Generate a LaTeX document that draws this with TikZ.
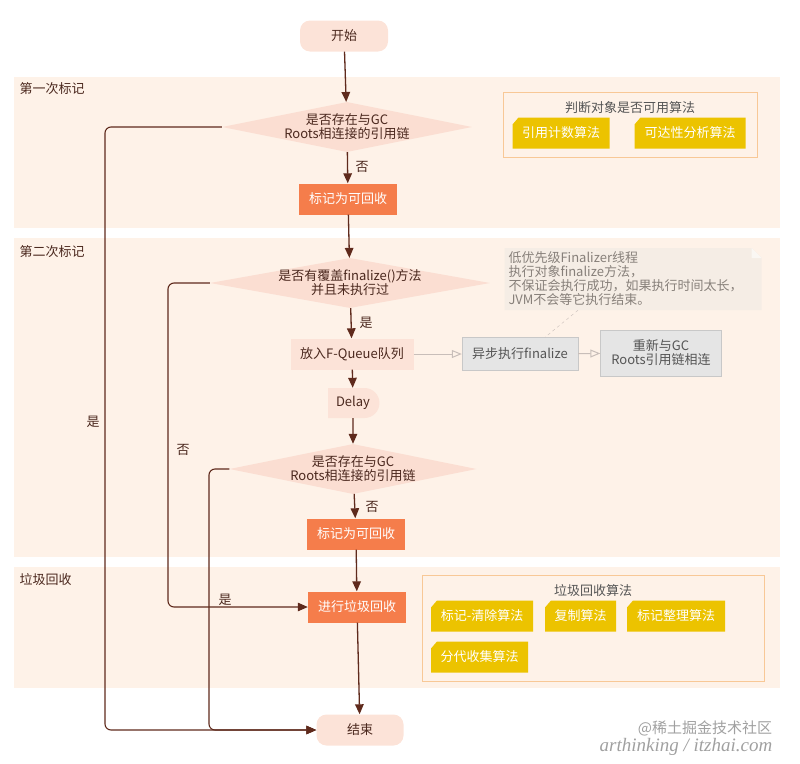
\documentclass[tikz,border=0pt]{standalone}
\usepackage{fontspec}
\setmainfont{Noto Sans CJK SC}
\newfontfamily\markfont{Liberation Serif}
\usetikzlibrary{shapes.geometric, shapes.misc, arrows.meta}

\definecolor{band}{RGB}{254,242,232}
\definecolor{petal}{RGB}{252,227,216}
\definecolor{rose}{RGB}{251,222,210}
\definecolor{ember}{RGB}{245,125,75}
\definecolor{ink}{RGB}{75,40,30}
\definecolor{bark}{RGB}{95,42,28}
\definecolor{mist}{RGB}{229,229,229}
\definecolor{mistedge}{RGB}{200,200,200}
\definecolor{slate}{RGB}{85,85,85}
\definecolor{paper}{RGB}{245,237,229}
\definecolor{pencil}{RGB}{135,128,122}
\definecolor{amber}{RGB}{236,195,0}
\definecolor{apricot}{RGB}{248,200,150}
\definecolor{smoke}{RGB}{160,160,160}
\definecolor{greyline}{RGB}{200,190,185}

\tikzset{
	flow/.style={draw=bark, line width=1.3pt, -{Triangle[length=10pt,width=8.5pt]}},
	backflow/.style={flow, line width=1.1pt, rounded corners=6pt},
	greyflow/.style={draw=greyline, line width=1pt, -{Triangle[open,length=10pt,width=8pt]}},
	lanelabel/.style={anchor=west, text=ink},
	terminal/.style={fill=petal, rounded corners=10pt, minimum height=31pt, text=ink},
	decision/.style={diamond, fill=rose, inner sep=0pt, minimum height=50pt},
	question/.style={align=center, text=ink, font=\fontsize{13}{14}\selectfont},
	markbox/.style={fill=ember, text=white, minimum width=98pt, minimum height=31pt},
	softbox/.style={fill=petal, text=ink, minimum height=31pt},
	greybox/.style={fill=mist, draw=mistedge, text=slate, align=center, font=\fontsize{13}{14}\selectfont},
	delaybox/.style={rounded rectangle, rounded rectangle west arc=none, fill=petal, text=ink, minimum width=58pt, minimum height=30pt},
	answer/.style={text=ink},
	frame/.style={draw=apricot, line width=0.8pt},
	frametitle/.style={text=slate},
	tag/.style={text=white, minimum height=31pt,
		path picture={\fill[amber] (path picture bounding box.south west)
			-- ([yshift=-7pt]path picture bounding box.north west)
			-- ([xshift=6pt]path picture bounding box.north west)
			-- (path picture bounding box.north east)
			-- (path picture bounding box.south east) -- cycle;}},
	hintnote/.style={text=pencil, align=left, text width=249pt, inner xsep=4pt, minimum height=62pt,
		font=\fontsize{13}{14}\selectfont,
		path picture={\fill[paper] (path picture bounding box.south west)
			-- (path picture bounding box.north west)
			-- ([xshift=-10pt]path picture bounding box.north east)
			-- ([yshift=-10pt]path picture bounding box.north east)
			-- (path picture bounding box.south east) -- cycle;
			\fill[white!55!paper] ([xshift=-10pt]path picture bounding box.north east)
			-- ([xshift=-10pt,yshift=-10pt]path picture bounding box.north east)
			-- ([yshift=-10pt]path picture bounding box.north east) -- cycle;}}
}

\begin{document}
\begin{tikzpicture}[x=1pt, y=-1pt, font=\fontsize{13}{15}\selectfont]

	\useasboundingbox (0,0) rectangle (800,763);

	% lanes
	\fill[band] (14,77) rectangle (780,228);
	\fill[band] (14,238) rectangle (780,557);
	\fill[band] (14,567) rectangle (780,688);
	\node[lanelabel] (lane1) at (16,89) {第一次标记};
	\node[lanelabel] (lane2) at (16,252) {第二次标记};
	\node[lanelabel] (lane3) at (16,580) {垃圾回收};

	% main column
	\node[terminal, minimum width=88pt] (start) at (344,36) {开始};
	\node[decision, minimum width=250pt] (check1) at (347,127) {};
	\node[question] (check1text) at (check1) {是否存在与GC\\Roots相连接的引用链};
	\node[markbox] (mark1) at (348,199) {标记为可回收};
	\node[decision, minimum width=280pt] (check2) at (350,283) {};
	\node[question] (check2text) at (check2) {是否有覆盖finalize()方法\\并且未执行过};
	\node[softbox, minimum width=123pt] (queue) at (352,354) {放入F-Queue队列};
	\node[delaybox] (delay) at (353,403) {Delay};
	\node[decision, minimum width=247pt] (check3) at (353,469) {};
	\node[question] (check3text) at (check3) {是否存在与GC\\Roots相连接的引用链};
	\node[markbox] (mark2) at (356,534) {标记为可回收};
	\node[markbox] (collect) at (357,607) {进行垃圾回收};
	\node[terminal, minimum width=87pt] (finish) at (360,730) {结束};

	% finalizer side
	\node[greybox, minimum width=116pt, minimum height=33pt] (async) at (520,354) {异步执行finalize};
	\node[greybox, minimum width=121pt, minimum height=46pt] (relink) at (661,353) {重新与GC\\Roots引用链相连};
	\node[hintnote] (hint) at (633,279) {低优先级Finalizer线程\\执行对象finalize方法，\\不保证会执行成功，如果执行时间太长，\\JVM不会等它执行结束。};

	% connectors
	\draw[flow] (start) -- (check1);
	\draw[flow] (check1) -- (mark1);
	\draw[flow] (mark1) -- (check2);
	\draw[flow] (check2) -- (queue);
	\draw[flow] (queue) -- (delay);
	\draw[flow] (delay) -- (check3);
	\draw[flow] (check3) -- (mark2);
	\draw[flow] (mark2) -- (collect);
	\draw[flow] (collect) -- (finish);
	\draw[greyflow] (queue) -- (async);
	\draw[greyflow] (async) -- (relink);
	\draw[greyline, dashed] ([xshift=-55pt]hint.south) -- ([xshift=25pt]async.north);

	\coordinate (rail1) at (105,0);
	\coordinate (rail2) at (168,0);
	\coordinate (rail3) at (209,0);
	\draw[backflow] (check1.west) -- (check1.west -| rail1) |- (finish.west);
	\draw[backflow] (check2.west) -- (check2.west -| rail2) |- (collect.west);
	\draw[backflow] (check3.west) -- (check3.west -| rail3) |- (finish.west);

	\node[answer] (no1) at (362,167) {否};
	\node[answer] (yes2) at (366,323) {是};
	\node[answer] (no3) at (372,507) {否};
	\node[answer] (yes1) at (93,422) {是};
	\node[answer] (no2) at (183,450) {否};
	\node[answer] (yes3) at (225,600) {是};

	% algorithm boxes
	\node[frame, minimum width=254pt, minimum height=65pt] (judge) at (630,124.5) {};
	\node[frametitle] (judgetitle) at (630,108) {判断对象是否可用算法};
	\node[tag, minimum width=97pt] (refcount) at (561,133) {引用计数算法};
	\node[tag, minimum width=111pt] (reach) at (690,133) {可达性分析算法};

	\node[frame, minimum width=342pt, minimum height=106pt] (gcalgo) at (593,628) {};
	\node[frametitle] (gctitle) at (593,591) {垃圾回收算法};
	\node[tag, minimum width=102pt] (sweep) at (482,616) {标记-清除算法};
	\node[tag, minimum width=71pt] (copying) at (580.5,616) {复制算法};
	\node[tag, minimum width=98pt] (compact) at (676,616) {标记整理算法};
	\node[tag, minimum width=97pt] (generation) at (479.5,657) {分代收集算法};

	% watermark
	\node[text=smoke, font=\fontsize{15}{15}\selectfont, inner sep=0pt] (wm1) at (705,728) {@稀土掘金技术社区};
	\node[text=smoke, font=\markfont\itshape\fontsize{19}{19}\selectfont, inner sep=0pt, anchor=north] (wm2) at (686,738) {arthinking / itzhai.com};

\end{tikzpicture}
\end{document}
